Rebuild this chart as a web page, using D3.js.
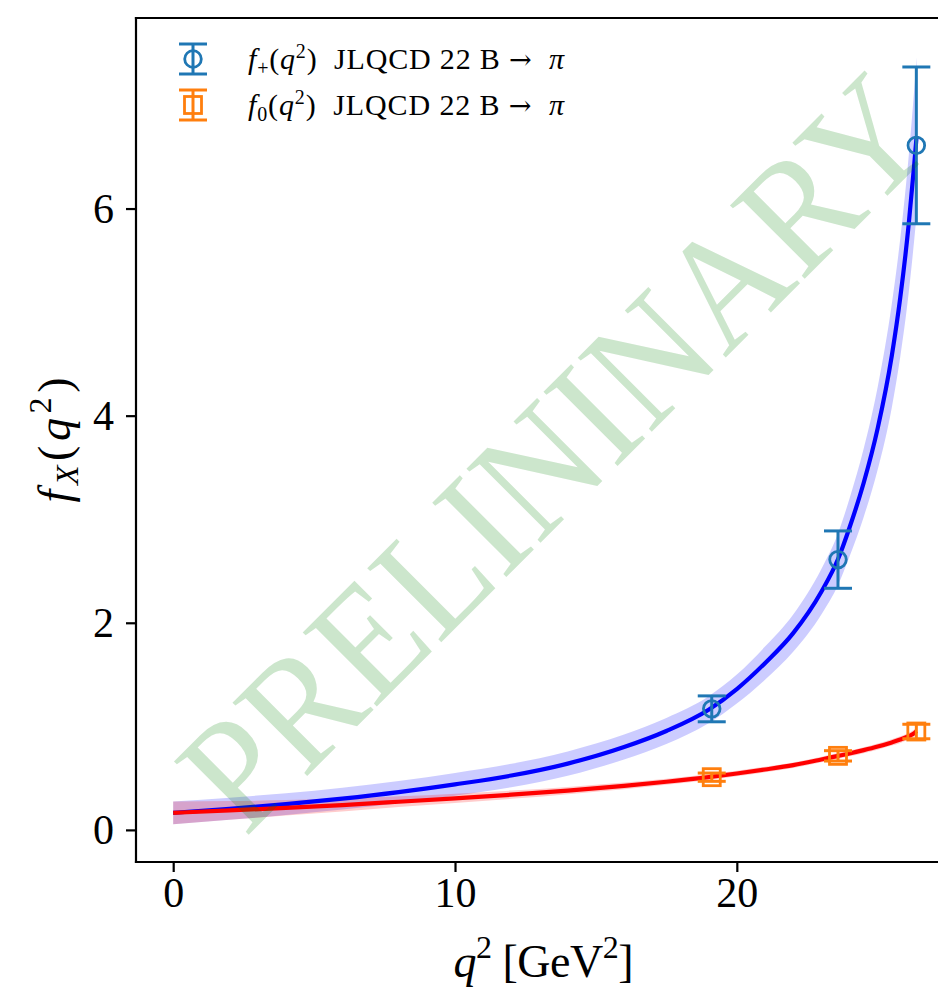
<!DOCTYPE html>
<html>
<head>
<meta charset="utf-8">
<script src="https://cdn.jsdelivr.net/npm/d3@7"></script>
<style>
  html, body { margin: 0; padding: 0; background: #fff; }
  svg { display: block; }
  text { font-family: "Liberation Serif", "Times New Roman", serif; white-space: pre; }
</style>
</head>
<body>
<script>
// Fit curves (central value and one-sigma half width) sampled on a q^2 grid
const q2Grid    = [0, 2, 4, 6, 8, 10, 12, 14, 16, 17.5, 19, 20, 21, 22, 23, 23.6, 24, 24.5, 25, 25.5, 25.8, 26.1, 26.3, 26.38];
const fPlusFit  = [0.165, 0.204, 0.249, 0.302, 0.365, 0.44, 0.525, 0.64, 0.80, 0.955, 1.16, 1.36, 1.61, 1.90, 2.30, 2.62, 2.92, 3.35, 3.88, 4.58, 5.14, 5.85, 6.44, 6.70];
const fPlusErr  = [0.11, 0.107, 0.105, 0.105, 0.107, 0.11, 0.113, 0.117, 0.12, 0.125, 0.13, 0.14, 0.16, 0.18, 0.22, 0.25, 0.28, 0.33, 0.40, 0.50, 0.57, 0.66, 0.73, 0.76];
const fZeroFit  = [0.165, 0.188, 0.213, 0.24, 0.272, 0.305, 0.34, 0.38, 0.425, 0.465, 0.51, 0.545, 0.583, 0.625, 0.68, 0.715, 0.738, 0.77, 0.805, 0.845, 0.872, 0.905, 0.935, 0.955];
const fZeroErr  = [0.11, 0.09, 0.075, 0.062, 0.052, 0.045, 0.04, 0.035, 0.032, 0.03, 0.028, 0.027, 0.027, 0.027, 0.027, 0.028, 0.028, 0.029, 0.03, 0.031, 0.032, 0.033, 0.034, 0.035];

// Lattice data points
const pointQ2       = [19.11, 23.59, 26.37];
const fPlusPoints   = [1.169, 2.61, 6.61];
const fPlusPtErr    = [0.125, 0.277, 0.757];
const fZeroPoints   = [0.509, 0.715, 0.95];
const fZeroPtErr    = [0.04, 0.05, 0.07];

// Axis ticks
const xTicks = [0, 10, 20];
const yTicks = [0, 2, 4, 6];

const W = 938, H = 988;
const pL = 136, pR = 951, pT = 18, pB = 862;

const svg = d3.select("body").append("svg").attr("width", W).attr("height", H);

const x = d3.scaleLinear().domain([-1.32, 27.6]).range([pL, pR]);
const y = d3.scaleLinear().domain([-0.31, 7.84]).range([pB, pT]);

svg.append("defs").append("clipPath").attr("id", "plot")
  .append("rect").attr("x", pL).attr("y", pT).attr("width", pR - pL).attr("height", pB - pT);

const plot = svg.append("g").attr("clip-path", "url(#plot)");

function bandData(fit, err) {
  return q2Grid.map((q, i) => ({ q, f: fit[i], e: err[i] }));
}
const plusData = bandData(fPlusFit, fPlusErr);
const zeroData = bandData(fZeroFit, fZeroErr);

const area = d3.area().curve(d3.curveMonotoneX)
  .x(d => x(d.q)).y0(d => y(d.f - d.e)).y1(d => y(d.f + d.e));
const line = d3.line().curve(d3.curveMonotoneX)
  .x(d => x(d.q)).y(d => y(d.f));

// Bands
plot.append("path").attr("d", area(plusData)).attr("fill", "blue").attr("fill-opacity", 0.2);
plot.append("path").attr("d", area(zeroData)).attr("fill", "red").attr("fill-opacity", 0.2);

// Central curves
plot.append("path").attr("d", line(plusData)).attr("fill", "none").attr("stroke", "blue").attr("stroke-width", 4.2);
plot.append("path").attr("d", line(zeroData)).attr("fill", "none").attr("stroke", "red").attr("stroke-width", 4.2);

// Error bars with markers
const C0 = "#1f77b4", C1 = "#ff7f0e";
const cap = 14, ew = 3;

function errorbars(vals, errs, color, marker) {
  const g = plot.append("g");
  pointQ2.forEach((q, i) => {
    const cx = x(q), lo = y(vals[i] - errs[i]), hi = y(vals[i] + errs[i]), cy = y(vals[i]);
    g.append("line").attr("x1", cx).attr("x2", cx).attr("y1", lo).attr("y2", hi)
      .attr("stroke", color).attr("stroke-width", ew);
    [lo, hi].forEach(yy => g.append("line").attr("x1", cx - cap).attr("x2", cx + cap)
      .attr("y1", yy).attr("y2", yy).attr("stroke", color).attr("stroke-width", ew));
    marker(g, cx, cy, color);
  });
}
const circleMarker = (g, cx, cy, color) => g.append("circle").attr("cx", cx).attr("cy", cy).attr("r", 8.3)
  .attr("fill", "none").attr("stroke", color).attr("stroke-width", 2.8);
const squareMarker = (g, cx, cy, color) => g.append("rect").attr("x", cx - 8.5).attr("y", cy - 8.5)
  .attr("width", 17).attr("height", 17).attr("fill", "none").attr("stroke", color).attr("stroke-width", 2.8);

errorbars(fPlusPoints, fPlusPtErr, C0, circleMarker);
errorbars(fZeroPoints, fZeroPtErr, C1, squareMarker);

// Spines (right spine lies beyond the canvas edge)
const frame = svg.append("g").attr("stroke", "#000").attr("stroke-width", 2.2);
frame.append("line").attr("x1", pL).attr("x2", pL).attr("y1", pT - 1.1).attr("y2", pB + 1.1);
frame.append("line").attr("x1", pL - 1.1).attr("x2", pR).attr("y1", pB).attr("y2", pB);
frame.append("line").attr("x1", pL - 1.1).attr("x2", pR).attr("y1", pT).attr("y2", pT);
frame.append("line").attr("x1", pR).attr("x2", pR).attr("y1", pT).attr("y2", pB);

// Axes
const xAxis = d3.axisBottom(x).tickValues(xTicks).tickSize(10).tickPadding(5).tickFormat(d3.format("d"));
const yAxis = d3.axisLeft(y).tickValues(yTicks).tickSize(10).tickPadding(12).tickFormat(d3.format("d"));

const gx = svg.append("g").attr("transform", `translate(0,${pB})`).call(xAxis);
const gy = svg.append("g").attr("transform", `translate(${pL},0)`).call(yAxis);
[gx, gy].forEach(g => {
  g.select(".domain").remove();
  g.selectAll(".tick line").attr("stroke", "#000").attr("stroke-width", 2.2);
  g.selectAll(".tick text").attr("font-size", 42).attr("fill", "#000")
    .attr("font-family", "Liberation Serif, serif");
});

// Axis labels
const xl = svg.append("text").attr("x", (pL + pR) / 2).attr("y", 977)
  .attr("text-anchor", "middle").attr("font-size", 46)
  .attr("textLength", 180).attr("lengthAdjust", "spacing");
xl.append("tspan").attr("font-style", "italic").text("q");
xl.append("tspan").attr("font-size", 32).attr("dy", -19).text("2");
xl.append("tspan").attr("dy", 19).text(" [GeV");
xl.append("tspan").attr("font-size", 32).attr("dy", -19).text("2");
xl.append("tspan").attr("dy", 19).text("]");

const yl = svg.append("text").attr("transform", `translate(70,${(pT + pB) / 2}) rotate(-90)`)
  .attr("text-anchor", "middle").attr("font-size", 46)
  .attr("textLength", 125).attr("lengthAdjust", "spacing");
yl.append("tspan").attr("font-style", "italic").text("f");
yl.append("tspan").attr("font-style", "italic").attr("font-size", 32).attr("dy", 8).text("X");
yl.append("tspan").attr("dy", -8).text("(");
yl.append("tspan").attr("font-style", "italic").text("q");
yl.append("tspan").attr("font-size", 32).attr("dy", -19).text("2");
yl.append("tspan").attr("dy", 19).text(")");

// Legend
const legendSub = ["+", "0"];
const legendName = ")  JLQCD 22 B ";
const legendColors = [C0, C1];
const legendMarkers = [circleMarker, squareMarker];
const lg = svg.append("g");
[59, 105].forEach((cy, i) => {
  const cx = 193;
  lg.append("line").attr("x1", cx).attr("x2", cx).attr("y1", cy - 15).attr("y2", cy + 15)
    .attr("stroke", legendColors[i]).attr("stroke-width", ew);
  [cy - 15, cy + 15].forEach(yy => lg.append("line").attr("x1", cx - cap).attr("x2", cx + cap)
    .attr("y1", yy).attr("y2", yy).attr("stroke", legendColors[i]).attr("stroke-width", ew));
  legendMarkers[i](lg, cx, cy, legendColors[i]);
  const t = lg.append("text").attr("x", 248).attr("y", cy + 10).attr("font-size", 30).attr("fill", "#000")
    .attr("textLength", 316).attr("lengthAdjust", "spacing");
  t.append("tspan").attr("font-style", "italic").text("f");
  t.append("tspan").attr("font-size", 20).attr("dy", 6).text(legendSub[i]);
  t.append("tspan").attr("dy", -6).text("(");
  t.append("tspan").attr("font-style", "italic").text("q");
  t.append("tspan").attr("font-size", 20).attr("dy", -11).text("2");
  t.append("tspan").attr("dy", 11).text(legendName);
  t.append("tspan").attr("font-family", "DejaVu Serif, serif").attr("font-size", 27).text("→");
  t.append("tspan").text("  ");
  t.append("tspan").attr("font-style", "italic").text("π");
});

// Watermark
svg.append("text")
  .attr("transform", `translate(555,452) rotate(-45)`)
  .attr("text-anchor", "middle").attr("dominant-baseline", "central")
  .attr("font-size", 160).attr("fill", "green").attr("fill-opacity", 0.2)
  .attr("textLength", 985).attr("lengthAdjust", "spacingAndGlyphs")
  .text("PRELININARY");
</script>
</body>
</html>
